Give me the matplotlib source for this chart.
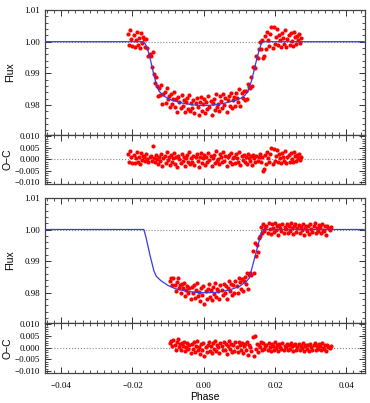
import numpy as np
import matplotlib.pyplot as plt
from matplotlib.ticker import MultipleLocator, FixedLocator, FixedFormatter

# model light curves (phase, flux)
model1_phase = [-0.0445, -0.0170, -0.0165, -0.0158, -0.0150, -0.0140, -0.0132, -0.0125,
                -0.0110, -0.0090, -0.0060, -0.0030, 0.0000, 0.0030, 0.0060, 0.0090,
                0.0105, 0.0115, 0.0125, 0.0135, 0.0145, 0.0155, 0.0162, 0.0168, 0.0450]
model1_flux = [1.0, 1.0, 0.9995, 0.9978, 0.9945, 0.9895, 0.9862, 0.9843,
               0.9827, 0.9815, 0.9806, 0.9800, 0.9798, 0.9800, 0.9806, 0.9815,
               0.9822, 0.9830, 0.9845, 0.9880, 0.9928, 0.9972, 0.9995, 1.0, 1.0]

model2_phase = [-0.0445, -0.0168, -0.0162, -0.0150, -0.0140, -0.0133, -0.0120, -0.0100,
                -0.0080, -0.0050, -0.0020, 0.0010, 0.0040, 0.0070, 0.0100, 0.0120,
                0.0128, 0.0164, 0.0450]
model2_flux = [1.0, 1.0, 0.9975, 0.9915, 0.9870, 0.9852, 0.9838, 0.9823,
               0.9813, 0.9805, 0.9801, 0.9800, 0.9802, 0.9808, 0.9820, 0.9836,
               0.9847, 1.0, 1.0]

# observed phases (units of 1e-4) and O-C residuals (units of 1e-4)
phase1 = [-212, -209, -206, -203, -200, -197, -194, -191, -188, -185,
          -182, -179, -176, -173, -170, -167, -164, -161, -158, -155,
          -152, -149, -146, -143, -140, -137, -134, -131, -128, -125,
          -122, -119, -116, -113, -110, -107, -104, -101, -98, -95,
          -92, -89, -86, -83, -80, -77, -74, -71, -68, -65,
          -62, -59, -56, -53, -50, -47, -44, -41, -38, -35,
          -32, -29, -26, -23, -20, -17, -14, -11, -8, -5,
          -2, 1, 4, 7, 10, 13, 16, 19, 22, 25,
          28, 31, 34, 37, 40, 43, 46, 49, 52, 55,
          58, 61, 64, 67, 70, 73, 76, 79, 82, 85,
          88, 91, 94, 97, 100, 103, 106, 109, 112, 115,
          118, 121, 124, 127, 130, 133, 136, 139, 142, 145,
          148, 151, 154, 157, 160, 163, 166, 169, 172, 175,
          178, 181, 184, 187, 190, 193, 196, 199, 202, 205,
          208, 211, 214, 217, 220, 223, 226, 229, 232, 235,
          238, 241, 244, 247, 250, 253, 256, 259, 262, 265,
          268, 271, 274]
resid1 = [25, -12, 38, 8, -15, 20, -18, 5, 30, -10,
          12, -20, 28, -5, 15, 10, -8, 22, 3, -12,
          8, 15, -6, 56, 4, -14, 18, 0, -22, 10,
          -8, 25, -30, 6, 14, -18, 30, -4, 10, -26,
          20, -12, 5, 28, -20, 8, -34, 15, 2, -16,
          24, -8, 12, -28, 6, 18, -14, 30, -22, 4,
          -10, 16, -26, 8, 22, -6, -32, 12, 26, -18,
          4, 20, -24, 10, -12, 28, -4, 14, -30, 6,
          18, -16, 34, -8, 2, -22, 24, 10, -14, 30,
          -6, 16, -28, 8, 20, -12, 26, -20, 4, 12,
          -18, 22, 6, -10, 32, -24, 14, -4, 18, -14,
          10, -20, 24, 4, -8, 16, -26, 20, 6, -12,
          14, -6, 8, 22, -12, 8, -50, -44, 18, -22,
          30, 6, -14, 24, 48, -20, 45, -8, 16, 40,
          -12, 22, 4, -18, 28, 12, -6, 36, -16, 8,
          20, -10, 26, 2, -14, 32, 14, -8, 18, 6,
          24, -4, 12]

phase2 = [-94, -91, -88, -85, -82, -79, -76, -73, -70, -67,
          -64, -61, -58, -55, -52, -49, -46, -43, -40, -37,
          -34, -31, -28, -25, -22, -19, -16, -13, -10, -7,
          -4, -1, 2, 5, 8, 11, 14, 17, 20, 23,
          26, 29, 32, 35, 38, 41, 44, 47, 50, 53,
          56, 59, 62, 65, 68, 71, 74, 77, 80, 83,
          86, 89, 92, 95, 98, 101, 104, 107, 110, 113,
          116, 119, 122, 125, 128, 131, 134, 137, 140, 143,
          146, 149, 152, 155, 158, 161, 164, 167, 170, 173,
          176, 179, 182, 185, 188, 191, 194, 197, 200, 203,
          206, 209, 212, 215, 218, 221, 224, 227, 230, 233,
          236, 239, 242, 245, 248, 251, 254, 257, 260, 263,
          266, 269, 272, 275, 278, 281, 284, 287, 290, 293,
          296, 299, 302, 305, 308, 311, 314, 317, 320, 323,
          326, 329, 332, 335, 338, 341, 344, 347, 350, 353,
          356]
resid2 = [18, 28, 6, 32, 12, -8, 22, 35, 4, 14,
          -10, 20, 8, 26, -16, 4, 18, -6, 10, -22,
          14, -4, 24, -18, 6, 30, -12, 2, -28, 16,
          -8, 20, -36, 4, -20, 12, 26, -14, 8, -24,
          18, -6, 28, -16, 10, 2, -22, 20, 6, -12,
          24, -8, 14, -26, 8, 30, -4, 16, -18, 10,
          -14, 22, 4, -20, 26, 12, -10, 18, -24, 6,
          16, -8, 24, -30, 10, 2, -16, 46, -34, 48,
          -6, 14, -20, 10, 4, 22, -12, 18, -4, 8,
          12, -10, 20, 2, -14, 16, 6, -8, 22, -2,
          10, -16, 14, 4, -6, 18, -12, 8, 2, 16,
          -10, 12, -4, 20, 6, -14, 10, 16, -8, 4,
          14, -12, 8, -2, 18, -16, 6, 12, -6, 10,
          -14, 16, 2, -8, 12, 20, -10, 6, -4, 14,
          8, -12, 18, 0, -6, 10, -16, 12, 4, -2,
          8]

x_ticks = [-0.04, -0.02, 0.00, 0.02, 0.04]
x_labels = ['\u22120.04', '\u22120.02', '0.00', '0.02', '0.04']
flux_ticks = [0.98, 0.99, 1.00, 1.01]
flux_labels = ['0.98', '0.99', '1.00', '1.01']
oc_ticks = [-0.010, -0.005, 0.0, 0.005, 0.010]
oc_labels = ['\u22120.010', '\u22120.005', '0.000', '0.005', '0.010']

serif = 'Liberation Serif'
sans = 'Liberation Sans'

fig = plt.figure(figsize=(3.7, 4.03), dpi=100)
L, W = 0.122, 0.864
ax_f1 = fig.add_axes([L, 0.665, W, 0.310])
ax_r1 = fig.add_axes([L, 0.543, W, 0.122])
ax_f2 = fig.add_axes([L, 0.199, W, 0.310])
ax_r2 = fig.add_axes([L, 0.074, W, 0.125])


def style(ax, yt, yl, ymin, show_x=False):
    ax.set_xlim(-0.0445, 0.0452)
    ax.xaxis.set_major_locator(FixedLocator(x_ticks))
    ax.xaxis.set_major_formatter(FixedFormatter(x_labels))
    ax.xaxis.set_minor_locator(MultipleLocator(0.002))
    ax.yaxis.set_major_locator(FixedLocator(yt))
    ax.yaxis.set_major_formatter(FixedFormatter(yl))
    ax.yaxis.set_minor_locator(MultipleLocator(ymin))
    ax.tick_params(which='both', direction='in', top=True, right=True,
                   colors='#333333', labelcolor='black', labelsize=6.5)
    ax.tick_params(which='major', length=4.5, width=0.7)
    ax.tick_params(which='minor', length=2.2, width=0.6)
    for s in ax.spines.values():
        s.set_color('#444444')
        s.set_linewidth(0.9)
    for lab in ax.get_xticklabels() + ax.get_yticklabels():
        lab.set_fontfamily(serif)
    if not show_x:
        ax.tick_params(labelbottom=False)


for ax_f, ax_r, ph, res, mph, mfl in [(ax_f1, ax_r1, phase1, resid1, model1_phase, model1_flux),
                                       (ax_f2, ax_r2, phase2, resid2, model2_phase, model2_flux)]:
    p = np.array(ph) * 1e-4
    oc = np.array(res) * 1e-4
    flux = np.interp(p, mph, mfl) + oc

    ax_f.axhline(1.0, color='#888888', ls=':', lw=0.8, zorder=1)
    ax_f.plot(p, flux, 'o', color='#ff0000', ms=3.0, mec='none', zorder=2)
    ax_f.plot(mph, mfl, color='#3a3adf', lw=0.9, zorder=3)
    ax_f.set_ylim(0.9705, 1.01)
    style(ax_f, flux_ticks, flux_labels, 0.002)
    ax_f.set_ylabel('Flux', fontfamily=sans, fontsize=7.5)
    ax_f.yaxis.set_label_coords(-0.094, 0.5)

    ax_r.axhline(0.0, color='#888888', ls=':', lw=0.8, zorder=1)
    ax_r.plot(p, oc, 'o', color='#ff0000', ms=3.0, mec='none', zorder=2)
    ax_r.set_ylim(-0.0109, 0.0106)
    style(ax_r, oc_ticks, oc_labels, 0.001, show_x=(ax_r is ax_r2))
    ax_r.set_ylabel('O\u2212C', fontfamily=sans, fontsize=7.5)
    ax_r.yaxis.set_label_coords(-0.103, 0.5)

ax_r2.tick_params(axis='x', pad=6)
ax_r2.set_xlabel('Phase', fontfamily=sans, fontsize=7.5, labelpad=2)

fig.savefig('out.png', dpi=100)
